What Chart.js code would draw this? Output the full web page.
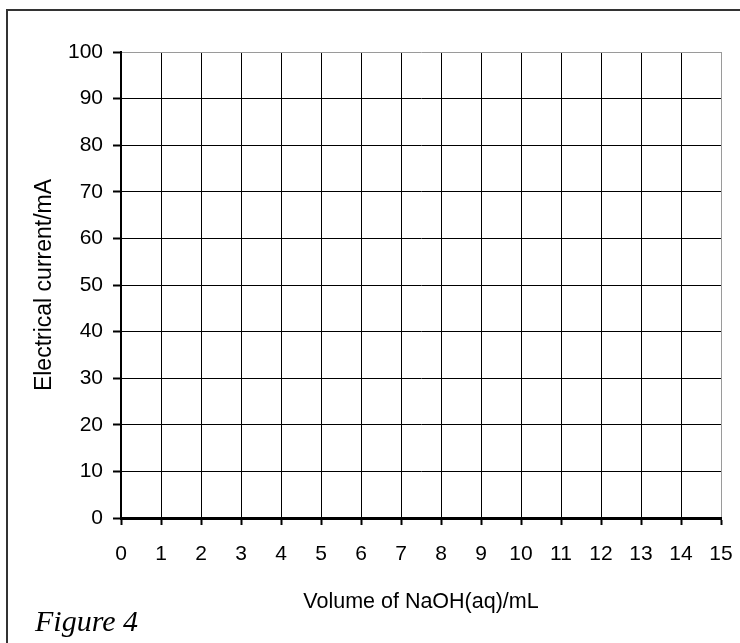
<!DOCTYPE html>
<html>
<head>
<meta charset="utf-8">
<script src="https://cdn.jsdelivr.net/npm/chart.js@4"></script>
<style>
  html, body { margin: 0; padding: 0; background: #fff; }
  #c { display: block; }
</style>
</head>
<body>
<canvas id="c" width="740" height="643"></canvas>
<script>
// ---- data ----
const xTicks = [0, 1, 2, 3, 4, 5, 6, 7, 8, 9, 10, 11, 12, 13, 14, 15];
const yTicks = [0, 10, 20, 30, 40, 50, 60, 70, 80, 90, 100];
const seriesPoints = []; // blank graph grid: no measurements plotted
const xTitle = 'Volume of NaOH(aq)/mL';
const yTitle = 'Electrical current/mA';
const figureLabel = 'Figure 4';

const SANS = '"Liberation Sans", Arial, sans-serif';
const tickFont = { family: SANS, size: 21 };
const titleFontX = { family: SANS, size: 21.5 };
const titleFontY = { family: SANS, size: 23 };

const frame = {
  id: 'frame',
  afterDraw(chart) {
    const ctx = chart.ctx;
    ctx.save();
    ctx.strokeStyle = '#333';
    ctx.lineWidth = 2;
    ctx.beginPath();
    ctx.moveTo(7, 650);
    ctx.lineTo(7, 10);
    ctx.lineTo(745, 10);
    ctx.stroke();
    ctx.fillStyle = '#000';
    ctx.font = 'italic 30px "Liberation Serif", "Times New Roman", serif';
    ctx.textBaseline = 'alphabetic';
    ctx.textAlign = 'left';
    ctx.fillText(figureLabel, 35, 631);
    ctx.restore();
  }
};

new Chart(document.getElementById('c'), {
  type: 'scatter',
  data: {
    datasets: [{ label: yTitle, data: seriesPoints, showLine: true, borderColor: '#000', backgroundColor: '#000' }]
  },
  options: {
    responsive: false,
    animation: false,
    devicePixelRatio: 1,
    layout: { padding: { left: 0, top: 52, right: 19, bottom: 20 } },
    plugins: { legend: { display: false }, tooltip: { enabled: false }, title: { display: false } },
    scales: {
      x: {
        type: 'linear',
        min: xTicks[0],
        max: xTicks[xTicks.length - 1],
        afterBuildTicks: s => { s.ticks = xTicks.map(v => ({ value: v })); },
        afterFit: s => { s.height = 105; s.paddingRight = 0; s.paddingLeft = 0; },
        grid: {
          color: c => (c.tick && c.tick.value === xTicks[xTicks.length - 1]) ? '#9a9a9a' : '#000',
          lineWidth: 1,
          tickLength: 7,
          tickColor: '#000',
          tickWidth: 2,
          drawTicks: true
        },
        border: { display: true, color: '#000', width: 3 },
        ticks: {
          color: '#000',
          font: tickFont,
          padding: Math.round(555 - 525 - tickFont.size * 0.6),
          maxRotation: 0,
          autoSkip: false,
          callback: v => String(v)
        },
        title: {
          display: true,
          text: xTitle,
          color: '#000',
          font: titleFontX,
          padding: { top: 0, bottom: Math.round(623 - 602 - titleFontX.size * 0.6) }
        }
      },
      y: {
        type: 'linear',
        min: yTicks[0],
        max: yTicks[yTicks.length - 1],
        afterBuildTicks: s => { s.ticks = yTicks.map(v => ({ value: v })); },
        afterFit: s => { s.width = 121; },
        grid: {
          color: c => (c.tick && c.tick.value === yTicks[yTicks.length - 1]) ? '#9a9a9a' : '#000',
          lineWidth: 1,
          tickLength: 8,
          tickColor: '#000',
          tickWidth: 2,
          drawTicks: true
        },
        border: { display: true, color: '#000', width: 2 },
        ticks: {
          color: '#000',
          font: tickFont,
          padding: 10,
          autoSkip: false,
          callback: v => String(v)
        },
        title: {
          display: true,
          text: yTitle,
          color: '#000',
          font: titleFontY,
          padding: { top: Math.round(45 - titleFontY.size * 0.6), bottom: 0 }
        }
      }
    }
  },
  plugins: [frame]
});
</script>
</body>
</html>
